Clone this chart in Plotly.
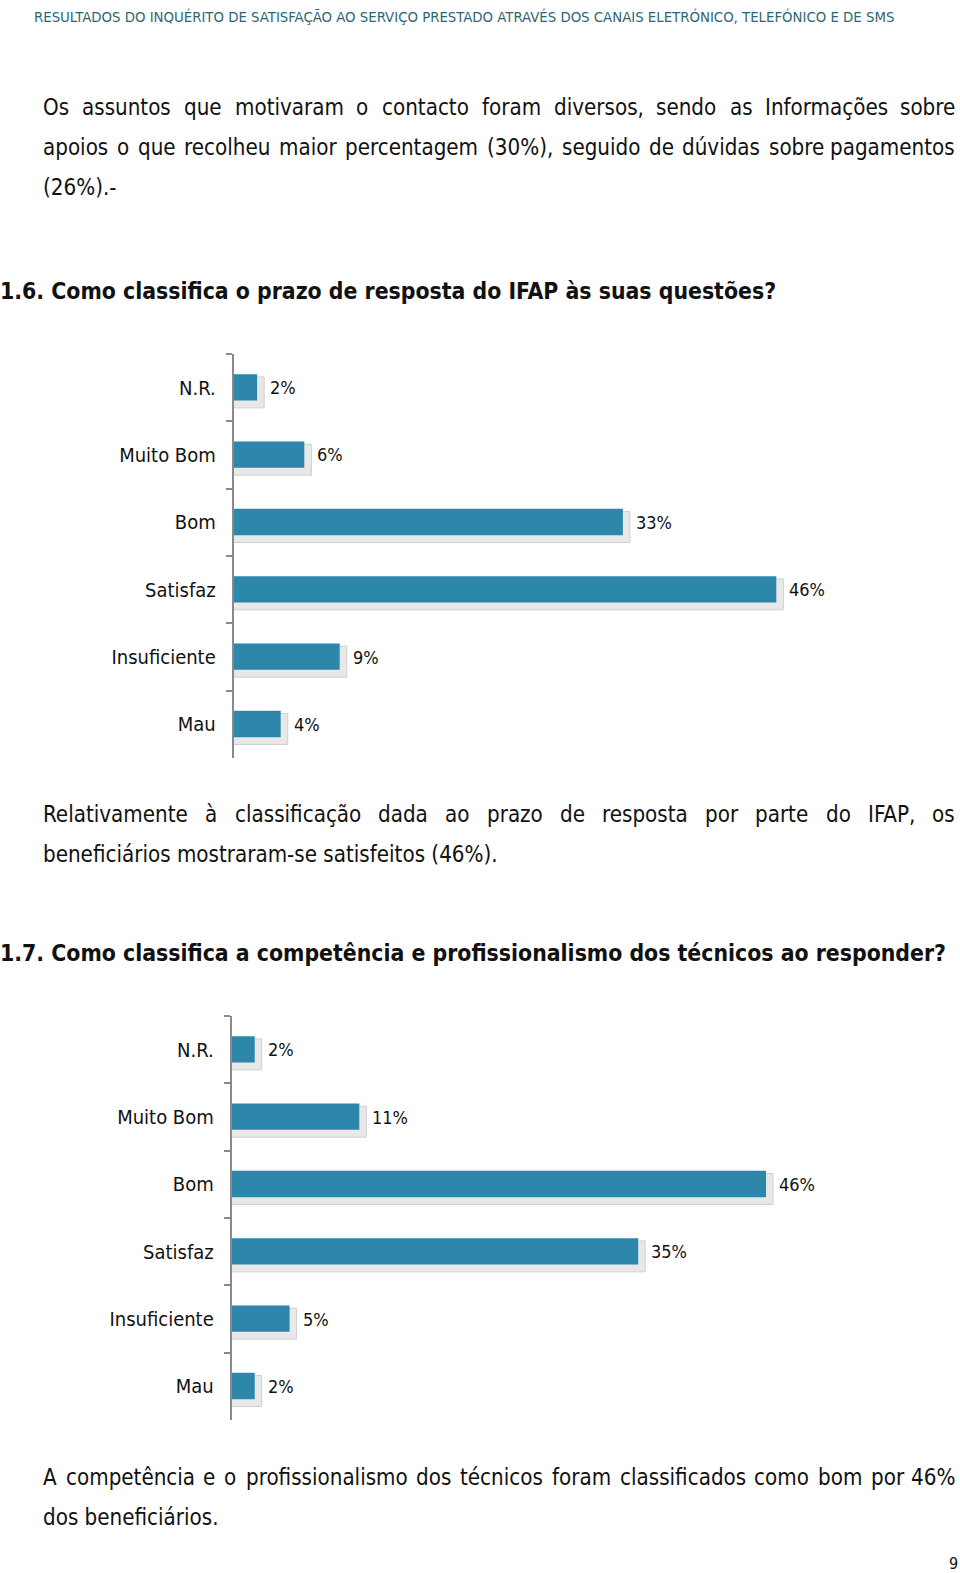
import unicodedata
import plotly.graph_objects as go

# ---------------- data ----------------
categories = ["N.R.", "Muito Bom", "Bom", "Satisfaz", "Insuficiente", "Mau"]
prazo_values = [2, 6, 33, 46, 9, 4]            # 1.6 prazo de resposta
competencia_values = [2, 11, 46, 35, 5, 2]     # 1.7 competência e profissionalismo

header_text = ("RESULTADOS DO INQUÉRITO DE SATISFAÇÃO AO SERVIÇO PRESTADO ATRAVÉS "
               "DOS CANAIS ELETRÓNICO, TELEFÓNICO E DE SMS")
heading1 = "1.6. Como classifica o prazo de resposta do IFAP às suas questões?"
heading2 = "1.7. Como classifica a competência e profissionalismo dos técnicos ao responder?"
para1 = ["Os assuntos que motivaram o contacto foram diversos, sendo as Informações sobre",
         "apoios o que recolheu maior percentagem (30%), seguido de dúvidas sobre pagamentos",
         "(26%).-"]
para2 = ["Relativamente à classificação dada ao prazo de resposta por parte do IFAP, os",
         "beneficiários mostraram-se satisfeitos (46%)."]
para3 = ["A competência e o profissionalismo dos técnicos foram classificados como bom por 46%",
         "dos beneficiários."]
page_number = "9"

# ---------------- layout helpers ----------------
W, H = 960, 1573
FONT = "DejaVu Sans Condensed, Liberation Sans Narrow, DejaVu Sans, sans-serif"
BAR = "#2c87ab"
AXIS = "#8a8a8a"
TEXT = "#111111"
XMAX = 50
BODY = 22.2

# approximate glyph advance widths (em) of DejaVu Sans, used to justify text lines
EM = dict(zip("abcdefghijklmnopqrstuvwxyz",
              [.613, .635, .550, .635, .615, .352, .635, .634, .278, .278, .579, .278, .974,
               .634, .612, .635, .635, .411, .521, .392, .634, .592, .818, .592, .592, .525]))
EM.update(zip("ABCDEFGHIJKLMNOPQRSTUVWXYZ",
              [.684, .686, .698, .770, .632, .575, .775, .752, .295, .295, .656, .557, .863,
               .748, .787, .603, .787, .695, .635, .611, .732, .684, .989, .685, .611, .685]))
EM.update({d: .636 for d in "0123456789"})
EM.update({" ": .318, ",": .318, ".": .318, "(": .390, ")": .390, "%": .950, "-": .361,
           "?": .531, ":": .337})
COND = 0.894


def text_width(s, size):
    tot = 0
    for ch in s:
        base = unicodedata.normalize("NFD", ch)[0]
        tot += EM.get(base, 0.6)
    return tot * size * COND


def fy(px):
    return 1 - px / H


def fx(px):
    return px / W


fig = go.Figure()
annotations = []


def add_text(text, x, y, size=BODY, anchor="left", color=TEXT):
    annotations.append(dict(text=text, x=fx(x), y=fy(y), xref="paper", yref="paper",
                            xanchor=anchor, yanchor="middle", showarrow=False,
                            borderpad=0, font=dict(family=FONT, size=size, color=color)))


def justify(line, y, x0=42, x1=956, size=BODY):
    words = line.split()
    widths = [text_width(w, size) for w in words]
    gap = (x1 - x0 - sum(widths)) / (len(words) - 1)
    x = x0
    for i, w in enumerate(words):
        if i == len(words) - 1:
            add_text(w, x1, y, size, "right")
        else:
            add_text(w, x, y, size, "left")
            x += widths[i] + gap


charts = [
    dict(values=prazo_values, x0=233.5, ppu=11.8, top=354, bottom=758, xa="x", ya="y"),
    dict(values=competencia_values, x0=231.5, ppu=11.62, top=1016, bottom=1420, xa="x2", ya="y2"),
]

layout_axes = {}
for i, c in enumerate(charts):
    suffix = "" if i == 0 else str(i + 1)
    # soft grey shadow behind each bar
    fig.add_trace(go.Bar(
        y=categories, x=[v + 0.6 for v in c["values"]], orientation="h",
        width=0.46, offset=-0.16,
        marker=dict(color="#e8e8e8", line=dict(color="#d0d0d0", width=1)),
        xaxis=c["xa"], yaxis=c["ya"], hoverinfo="skip", showlegend=False))
    fig.add_trace(go.Bar(
        y=categories, x=c["values"], orientation="h",
        width=0.39, offset=-0.2,
        marker=dict(color=BAR, line=dict(width=0)),
        xaxis=c["xa"], yaxis=c["ya"], showlegend=False))
    for cat, v in zip(categories, c["values"]):
        annotations.append(dict(text=f"{v}%", x=v, y=cat, xref=c["xa"], yref=c["ya"],
                                xanchor="left", yanchor="middle", xshift=11, showarrow=False,
                                font=dict(family=FONT, size=18, color=TEXT)))
    layout_axes["xaxis" + suffix] = dict(
        domain=[fx(c["x0"]), fx(c["x0"] + c["ppu"] * XMAX)], range=[0, XMAX],
        visible=False, anchor=c["ya"], fixedrange=True)
    layout_axes["yaxis" + suffix] = dict(
        domain=[fy(c["bottom"]), fy(c["top"])], type="category",
        categoryorder="array", categoryarray=categories, range=[5.5, -0.5],
        showline=True, linecolor=AXIS, linewidth=1.5, ticks="outside",
        tickson="boundaries", ticklen=6, tickcolor=AXIS, tickwidth=1.5,
        ticklabelstandoff=12, showgrid=False, zeroline=False, anchor=c["xa"],
        tickfont=dict(family=FONT, size=20, color=TEXT), fixedrange=True)

# ---------------- page text ----------------
add_text(header_text, 33, 16, size=14.8, color="#2f6675")
justify(para1[0], 107)
justify(para1[1], 147)
add_text(para1[2], 42, 187)
add_text("<b>" + heading1 + "</b>", -1, 291, size=22.8)
justify(para2[0], 814)
add_text(para2[1], 42, 854)
add_text("<b>" + heading2 + "</b>", -1, 953, size=22.8)
justify(para3[0], 1477)
add_text(para3[1], 42, 1517)
add_text(page_number, 953, 1563, size=16, anchor="center")

fig.update_layout(
    width=W, height=H, margin=dict(l=0, r=0, t=0, b=0),
    paper_bgcolor="white", plot_bgcolor="white", barmode="overlay",
    showlegend=False, annotations=annotations, **layout_axes)

fig.write_html("out.html")
